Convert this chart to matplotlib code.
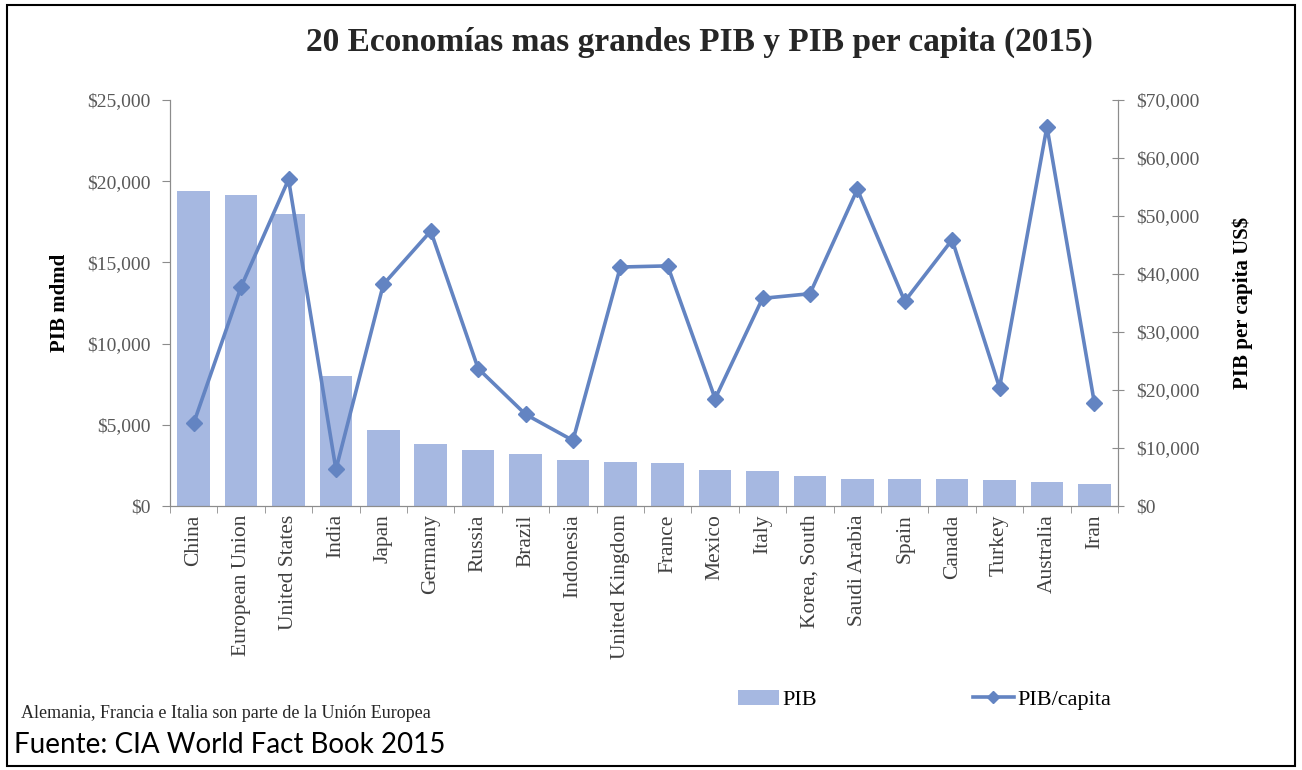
import matplotlib
matplotlib.use("Agg")
import matplotlib.pyplot as plt
from matplotlib.lines import Line2D
from matplotlib.patches import Patch, Rectangle
from matplotlib.ticker import FuncFormatter, MultipleLocator, FixedLocator
import numpy as np

# PIB (miles de millones, PPA) y PIB per capita, 2015
paises = [
    "China", "European Union", "United States", "India", "Japan", "Germany",
    "Russia", "Brazil", "Indonesia", "United Kingdom", "France", "Mexico",
    "Italy", "Korea, South", "Saudi Arabia", "Spain", "Canada", "Turkey",
    "Australia", "Iran",
]
pib = [19400, 19180, 17950, 8000, 4660, 3840, 3470, 3190, 2850, 2690,
       2650, 2220, 2170, 1850, 1680, 1640, 1630, 1590, 1490, 1370]
pib_capita = [14300, 37800, 56300, 6300, 38200, 47400, 23700, 15800, 11300,
              41200, 41400, 18500, 35800, 36600, 54600, 35300, 45900, 20400,
              65400, 17800]

BAR = "#A6B8E1"
LINE = "#6384C2"
GREY = "#595959"
AXIS = "#8C8C8C"
SERIF = ["Liberation Serif", "DejaVu Serif"]

plt.rcParams["font.family"] = SERIF

fig = plt.figure(figsize=(13.02, 7.70), dpi=100)
ax = fig.add_axes([0.1306, 0.3429, 0.7281, 0.5272])
ax2 = ax.twinx()

x = np.arange(len(paises))
ax.bar(x, pib, width=0.69, color=BAR, zorder=2)
ax2.plot(x, pib_capita, color=LINE, linewidth=2.6, marker="D",
         markersize=8, zorder=3)

ax.set_xlim(-0.5, len(paises) - 0.5)
ax.set_ylim(0, 25000)
ax2.set_ylim(0, 70000)
ax.yaxis.set_major_locator(MultipleLocator(5000))
ax2.yaxis.set_major_locator(MultipleLocator(10000))
money = FuncFormatter(lambda v, p: f"${v:,.0f}")
ax.yaxis.set_major_formatter(money)
ax2.yaxis.set_major_formatter(money)

# category labels, tick marks between categories
ax.set_xticks(x)
ax.set_xticklabels(paises, rotation=90, fontsize=15.5, color="#404040")
ax.tick_params(axis="x", length=0, pad=6)
ax.xaxis.set_minor_locator(FixedLocator(np.arange(-0.5, len(paises), 1.0)))
ax.tick_params(axis="x", which="minor", length=5, color=AXIS, direction="out")

ax.tick_params(axis="y", labelsize=14, labelcolor=GREY, color=AXIS,
               length=6, pad=8)
ax2.tick_params(axis="y", labelsize=14, labelcolor=GREY, color=AXIS,
                length=8, direction="inout", pad=9)

for a in (ax, ax2):
    a.spines["top"].set_visible(False)
    for s in ("left", "right", "bottom"):
        a.spines[s].set_color(AXIS)

ax.set_ylabel("PIB mdmd", fontsize=15, fontweight="bold", labelpad=12)
ax2.set_ylabel("PIB per capita US$", fontsize=15, fontweight="bold",
               labelpad=24, rotation=90)

fig.text(0.537, 0.945, "20 Economías mas grandes PIB y PIB per capita (2015)",
         ha="center", va="center", fontsize=24, fontweight="bold",
         color="#262626")

handles = [
    Patch(facecolor=BAR, edgecolor="none"),
    Line2D([], [], color=LINE, linewidth=2.6, marker="D", markersize=6),
]
fig.legend(handles, ["PIB", "PIB/capita"], loc="center left",
           bbox_to_anchor=(0.567, 0.091), ncol=2, frameon=False,
           fontsize=16, handlelength=1.85, handletextpad=0.15,
           columnspacing=7.0, borderpad=0, borderaxespad=0)

fig.text(0.016, 0.074, "Alemania, Francia e Italia son parte de la Unión Europea",
         fontsize=13, color="#262626", va="center")
fig.text(0.011, 0.032, "Fuente: CIA World Fact Book 2015", fontsize=20,
         family=["Lato", "DejaVu Sans"], va="center", color="black")

# page border
fig.patches.append(Rectangle((0.005, 0.005), 0.99, 0.988, fill=False,
                             edgecolor="black", linewidth=1.5,
                             transform=fig.transFigure))

fig.savefig("out.png", dpi=100)
